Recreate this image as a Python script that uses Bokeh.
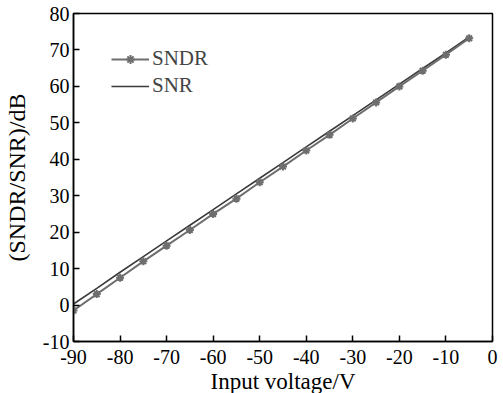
from bokeh.plotting import figure
from bokeh.models import Legend, LegendItem, FixedTicker, Range1d
from bokeh.embed import file_html
from bokeh.resources import INLINE

voltage = [-90, -85, -80, -75, -70, -65, -60, -55, -50, -45, -40, -35, -30, -25, -20, -15, -10, -5]
sndr = [-1.5, 3.0, 7.5, 12.0, 16.3, 20.6, 25.0, 29.2, 33.7, 38.0, 42.4, 46.7, 51.2, 55.6, 60.0, 64.3, 68.7, 73.2]
snr = [0.3, 4.6, 9.0, 13.3, 17.6, 21.9, 26.2, 30.5, 34.8, 39.1, 43.4, 47.7, 52.0, 56.3, 60.6, 64.9, 69.2, 73.6]
x_ticks = [-90, -80, -70, -60, -50, -40, -30, -20, -10, 0]
y_ticks = [-10, 0, 10, 20, 30, 40, 50, 60, 70, 80]
x_labels = {t: str(t) for t in x_ticks}
y_labels = {t: str(t) for t in y_ticks}

FONT = "Liberation Serif"

p = figure(width=503, height=393, output_backend="svg", toolbar_location=None,
           x_range=Range1d(-90, 0), y_range=Range1d(-10, 80),
           frame_width=419, frame_height=328,
           min_border_left=70, min_border_right=14, min_border_top=13, min_border_bottom=52)
p.grid.visible = False
p.outline_line_color = "black"
p.outline_line_width = 1.5
p.background_fill_color = "white"

for ax in (p.xaxis[0], p.yaxis[0]):
    ax.major_tick_in = 6
    ax.major_tick_out = 0
    ax.minor_tick_in = 0
    ax.minor_tick_out = 0
    ax.axis_line_width = 1.5
    ax.major_tick_line_width = 1.5
    ax.major_label_text_font = FONT
    ax.major_label_text_font_size = "20px"
    ax.major_label_text_color = "black"
    ax.axis_label_text_font = FONT
    ax.axis_label_text_font_style = "normal"
    ax.axis_label_text_color = "black"

p.xaxis.ticker = FixedTicker(ticks=x_ticks)
p.yaxis.ticker = FixedTicker(ticks=y_ticks)
p.xaxis.major_label_overrides = x_labels
p.yaxis.major_label_overrides = y_labels
p.xaxis.axis_label = "Input voltage/V"
p.yaxis.axis_label = "(SNDR/SNR)/dB"
p.xaxis.axis_label_text_font_size = "23px"
p.yaxis.axis_label_text_font_size = "24px"
p.xaxis.major_label_standoff = 8
p.xaxis.axis_label_standoff = 2
p.yaxis.major_label_standoff = 4
p.yaxis.axis_label_standoff = 10

r_snr = p.line(voltage, snr, line_color="#3a3a3a", line_width=1.6)
r_sndr = p.line(voltage, sndr, line_color="#6e6e6e", line_width=2)
r_sndr_m = p.scatter(voltage, sndr, marker="asterisk", size=8, line_color="#6e6e6e", line_width=2)

legend = Legend(items=[LegendItem(label="SNDR", renderers=[r_sndr, r_sndr_m]),
                       LegendItem(label="SNR", renderers=[r_snr])],
                border_line_color=None, background_fill_alpha=0,
                label_text_font=FONT, label_text_font_size="21px", glyph_width=38,
                spacing=2, label_standoff=3, label_height=22, glyph_height=22,
                margin=0, padding=0)
p.add_layout(legend, "center")
legend.location = (38, 243)

open("out.html", "w").write(file_html(p, INLINE))
